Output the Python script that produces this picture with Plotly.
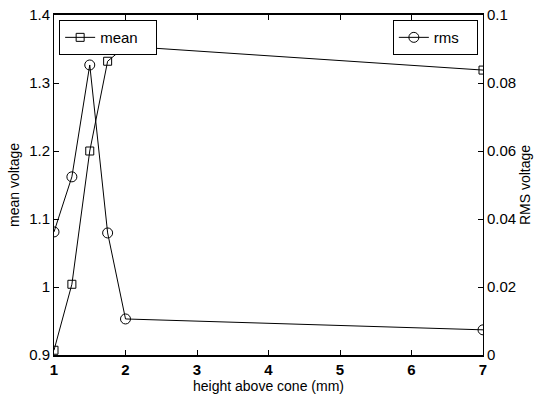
import plotly.graph_objects as go

height = [1, 1.25, 1.5, 1.75, 2, 7]
mean_v = [0.907, 1.004, 1.200, 1.332, 1.354, 1.319]
rms_v = [0.0362, 0.0524, 0.0853, 0.0359, 0.0106, 0.0074]

FONT = "Liberation Sans, Arial, sans-serif"

fig = go.Figure()
fig.add_trace(go.Scatter(x=height, y=mean_v, name="mean   ", mode="lines+markers",
                         line=dict(color="black", width=1),
                         marker=dict(symbol="square-open", size=8, color="black", line=dict(width=1)),
                         legend="legend"))
fig.add_trace(go.Scatter(x=height, y=rms_v, name="rms   ", mode="lines+markers", yaxis="y2",
                         line=dict(color="black", width=1),
                         marker=dict(symbol="circle-open", size=10, color="black", line=dict(width=1)),
                         legend="legend2"))

axis_common = dict(showgrid=False, zeroline=False, linecolor="black", automargin=False,
                   ticks="inside", ticklen=5, tickcolor="black")

fig.update_layout(
    width=542, height=398,
    margin=dict(l=54, r=59, t=15, b=43),
    paper_bgcolor="white", plot_bgcolor="white",
    font=dict(family=FONT, size=14, color="black"),
    xaxis=dict(range=[1, 7], dtick=1, tick0=1, showline=True, mirror="ticks", linewidth=1.5,
               tickfont=dict(family=FONT, size=15, color="black", weight="bold"),
               title=dict(text="height above cone (mm)", standoff=3,
                          font=dict(family=FONT, size=14)), **axis_common),
    yaxis=dict(range=[0.9, 1.4], dtick=0.1, tick0=0.9, showline=True, mirror=True, linewidth=1,
               tickfont=dict(family=FONT, size=15, color="black"),
               title=dict(text="mean voltage", standoff=6, font=dict(family=FONT, size=14)),
               **axis_common),
    yaxis2=dict(range=[0, 0.1], dtick=0.02, tick0=0, overlaying="y", side="right",
                showline=True, anchor="x", linewidth=1,
                tickfont=dict(family=FONT, size=15, color="black"),
                title=dict(text="RMS voltage", standoff=4, font=dict(family=FONT, size=14)),
                **axis_common),
    legend=dict(x=0.012, y=0.985, xanchor="left", yanchor="top", bordercolor="black",
                borderwidth=1, bgcolor="white", font=dict(family=FONT, size=15),
                tracegroupgap=0, itemwidth=30),
    legend2=dict(x=0.988, y=0.985, xanchor="right", yanchor="top", bordercolor="black",
                 borderwidth=1, bgcolor="white", font=dict(family=FONT, size=15),
                 itemwidth=30),
    showlegend=True,
)

fig.write_html("out.html")
